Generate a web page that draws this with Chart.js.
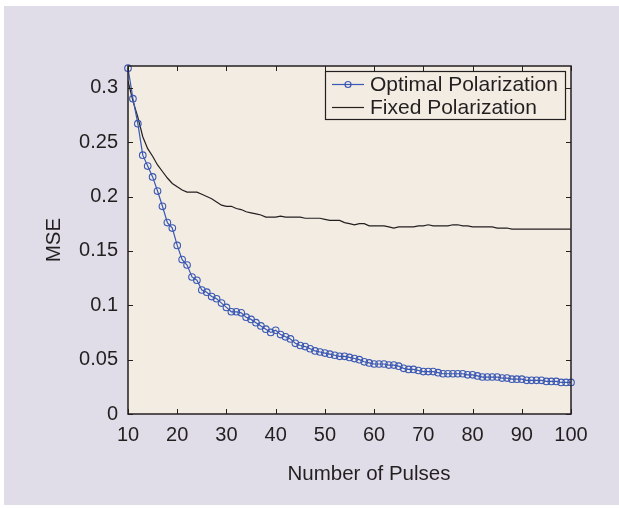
<!DOCTYPE html>
<html>
<head>
<meta charset="utf-8">
<script src="https://cdn.jsdelivr.net/npm/chart.js@4/dist/chart.umd.min.js"></script>
<style>
  html, body { margin: 0; padding: 0; background: #ffffff; }
  #box { width: 619px; height: 508px; }
</style>
</head>
<body>
<div id="box"><canvas id="grafico"></canvas></div>
<script>
/* Dados */

const pulsos = [10, 11, 12, 13, 14, 15, 16, 17, 18, 19,
  20, 21, 22, 23, 24, 25, 26, 27, 28, 29,
  30, 31, 32, 33, 34, 35, 36, 37, 38, 39,
  40, 41, 42, 43, 44, 45, 46, 47, 48, 49,
  50, 51, 52, 53, 54, 55, 56, 57, 58, 59,
  60, 61, 62, 63, 64, 65, 66, 67, 68, 69,
  70, 71, 72, 73, 74, 75, 76, 77, 78, 79,
  80, 81, 82, 83, 84, 85, 86, 87, 88, 89,
  90, 91, 92, 93, 94, 95, 96, 97, 98, 99, 100];

const otima = [0.318, 0.290, 0.267, 0.238, 0.228, 0.218, 0.205, 0.191, 0.176, 0.171,
  0.155, 0.142, 0.137, 0.126, 0.123, 0.114, 0.112, 0.108, 0.106, 0.102,
  0.098, 0.094, 0.094, 0.093, 0.089, 0.087, 0.084, 0.081, 0.078, 0.075,
  0.077, 0.073, 0.071, 0.069, 0.065, 0.063, 0.062, 0.060, 0.058, 0.057,
  0.056, 0.055, 0.054, 0.053, 0.053, 0.052, 0.051, 0.050, 0.048, 0.047,
  0.046, 0.046, 0.046, 0.045, 0.045, 0.044, 0.042, 0.041, 0.041, 0.040,
  0.039, 0.039, 0.039, 0.038, 0.037, 0.037, 0.037, 0.037, 0.037, 0.036,
  0.036, 0.035, 0.034, 0.034, 0.034, 0.034, 0.033, 0.033, 0.032, 0.032,
  0.032, 0.031, 0.031, 0.031, 0.031, 0.030, 0.030, 0.030, 0.029, 0.029, 0.029];

const fixa = [0.306, 0.288, 0.273, 0.255, 0.244, 0.237, 0.229, 0.223, 0.217, 0.212,
  0.209, 0.206, 0.204, 0.204, 0.204, 0.202, 0.200, 0.198, 0.195, 0.192,
  0.191, 0.191, 0.189, 0.188, 0.186, 0.185, 0.184, 0.183, 0.181, 0.181,
  0.181, 0.182, 0.181, 0.181, 0.181, 0.181, 0.180, 0.180, 0.180, 0.180,
  0.179, 0.178, 0.178, 0.178, 0.176, 0.175, 0.174, 0.175, 0.175, 0.173,
  0.173, 0.173, 0.173, 0.172, 0.171, 0.172, 0.172, 0.172, 0.172, 0.173,
  0.173, 0.174, 0.173, 0.173, 0.173, 0.173, 0.174, 0.174, 0.173, 0.173,
  0.172, 0.172, 0.172, 0.172, 0.172, 0.171, 0.171, 0.171, 0.170, 0.170,
  0.170, 0.170, 0.170, 0.170, 0.170, 0.170, 0.170, 0.170, 0.170, 0.170, 0.170];

const ticksX = [10, 20, 30, 40, 50, 60, 70, 80, 90, 100];
const ticksY = [0, 0.05, 0.1, 0.15, 0.2, 0.25, 0.3];

const nomes = ["Optimal Polarization", "Fixed Polarization"];

/* Cores e fonte */

const fundo = "#e0dde8";
const papel = "#f2ece2";
const tinta = "#231f20";
const azul = "#3a58b4";
const fonte = "Liberation Sans, Arial, sans-serif";

/* Desenho extra: fundo, caixa, marcas e legenda */

const moldura = {
  id: "moldura",
  beforeDraw(chart) {
    const ctx = chart.ctx;
    const a = chart.chartArea;
    ctx.save();
    ctx.fillStyle = fundo;
    ctx.fillRect(4, 6, chart.width - 4, chart.height - 9);
    ctx.fillStyle = papel;
    ctx.fillRect(a.left, a.top, a.right - a.left, a.bottom - a.top);
    ctx.restore();
  },
  afterDatasetsDraw(chart) {
    const ctx = chart.ctx;
    const a = chart.chartArea;
    const x = chart.scales.x;
    const y = chart.scales.y;
    ctx.save();
    ctx.strokeStyle = tinta;
    ctx.lineWidth = 1.5;
    ctx.strokeRect(a.left, a.top, a.right - a.left, a.bottom - a.top);
    ctx.lineWidth = 1;
    ctx.beginPath();
    ticksX.forEach(function (v) {
      const px = Math.round(x.getPixelForValue(v)) + 0.5;
      ctx.moveTo(px, a.bottom); ctx.lineTo(px, a.bottom - 5);
      ctx.moveTo(px, a.top); ctx.lineTo(px, a.top + 5);
    });
    ticksY.forEach(function (v) {
      const py = Math.round(y.getPixelForValue(v)) + 0.5;
      ctx.moveTo(a.left, py); ctx.lineTo(a.left + 5, py);
      ctx.moveTo(a.right, py); ctx.lineTo(a.right - 5, py);
    });
    ctx.stroke();

    // titulos dos eixos
    ctx.fillStyle = tinta;
    ctx.font = "20.5px " + fonte;
    ctx.textAlign = "center";
    ctx.textBaseline = "alphabetic";
    ctx.fillText("Number of Pulses", 369, 480);
    ctx.translate(60, (a.top + a.bottom) / 2);
    ctx.rotate(-Math.PI / 2);
    ctx.fillText("MSE", 0, 0);
    ctx.restore();
  },
  afterDraw(chart) {
    const ctx = chart.ctx;
    ctx.save();
    ctx.fillStyle = papel;
    ctx.fillRect(325, 71, 241, 48);
    ctx.strokeStyle = tinta;
    ctx.lineWidth = 1.2;
    ctx.strokeRect(325.5, 71.5, 240, 48);

    ctx.lineWidth = 1.2;
    ctx.strokeStyle = azul;
    ctx.beginPath();
    ctx.moveTo(332, 84.5); ctx.lineTo(364, 84.5);
    ctx.stroke();
    ctx.beginPath();
    ctx.arc(348, 84.5, 3, 0, Math.PI * 2);
    ctx.stroke();

    ctx.strokeStyle = tinta;
    ctx.beginPath();
    ctx.moveTo(332, 107.5); ctx.lineTo(364, 107.5);
    ctx.stroke();

    ctx.fillStyle = tinta;
    ctx.font = "21px " + fonte;
    ctx.textAlign = "left";
    ctx.textBaseline = "middle";
    ctx.fillText(nomes[0], 370, 85);
    ctx.fillText(nomes[1], 370, 108);
    ctx.restore();
  }
};

/* Gráfico */

const data = {
  datasets: [
    {
      label: nomes[0],
      data: pulsos.map(function (p, i) { return { x: p, y: otima[i] }; }),
      borderColor: azul,
      borderWidth: 1.2,
      pointRadius: 3.3,
      pointBorderWidth: 1.1,
      pointBorderColor: azul,
      pointBackgroundColor: "rgba(0,0,0,0)",
      tension: 0,
      clip: false,
    },
    {
      label: nomes[1],
      data: pulsos.map(function (p, i) { return { x: p, y: fixa[i] }; }),
      borderColor: tinta,
      borderWidth: 1.2,
      pointRadius: 0,
      tension: 0,
    },
  ],
};

const config = {
  type: "line",
  data: data,
  plugins: [moldura],
  options: {
    responsive: true,
    maintainAspectRatio: false,
    animation: false,
    layout: { padding: { left: 0, top: 66, right: 48, bottom: 0 } },
    plugins: {
      legend: { display: false },
      tooltip: { enabled: false },
    },
    scales: {
      x: {
        type: "linear",
        min: 10,
        max: 100,
        afterBuildTicks: function (s) { s.ticks = ticksX.map(function (v) { return { value: v }; }); },
        afterFit: function (s) { s.height = 94; },
        grid: { display: false, drawTicks: false },
        border: { display: false },
        ticks: { color: tinta, padding: 9, maxRotation: 0, font: { family: fonte, size: 20 } },
      },
      y: {
        type: "linear",
        min: 0,
        max: 0.32,
        afterBuildTicks: function (s) { s.ticks = ticksY.map(function (v) { return { value: v }; }); },
        afterFit: function (s) { s.width = 128; },
        grid: { display: false, drawTicks: false },
        border: { display: false },
        ticks: {
          color: tinta,
          padding: 10,
          font: { family: fonte, size: 20 },
          callback: function (v) { return String(Math.round(v * 100) / 100); },
        },
      },
    },
  },
};

const myChart = new Chart(document.getElementById("grafico"), config);
</script>
</body>
</html>
